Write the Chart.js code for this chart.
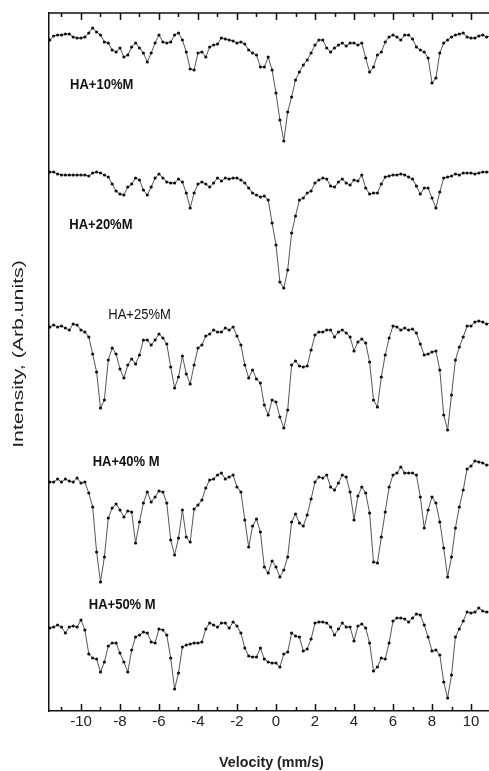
<!DOCTYPE html>
<html>
<head>
<meta charset="utf-8">
<script src="https://cdn.jsdelivr.net/npm/chart.js@4"></script>
<style>
    html, body { margin: 0; padding: 0; overflow: hidden; background: #fff; }
    #wrap { width: 489px; height: 771px; overflow: hidden; }
    #box { width: 520px; height: 771px; position: relative; }
</style>
</head>
<body>
<div id="wrap"><div id="box"><canvas id="chart"></canvas></div></div>
<script>
// velocity channels (mm/s)
const velocity = [
    -11.6, -11.4, -11.2, -11.0, -10.8, -10.6, -10.4, -10.2, -10.0, -9.8,
    -9.6, -9.4, -9.2, -9.0, -8.8, -8.6, -8.4, -8.2, -8.0, -7.8,
    -7.6, -7.4, -7.2, -7.0, -6.8, -6.6, -6.4, -6.2, -6.0, -5.8,
    -5.6, -5.4, -5.2, -5.0, -4.8, -4.6, -4.4, -4.2, -4.0, -3.8,
    -3.6, -3.4, -3.2, -3.0, -2.8, -2.6, -2.4, -2.2, -2.0, -1.8,
    -1.6, -1.4, -1.2, -1.0, -0.8, -0.6, -0.4, -0.2, 0.0, 0.2,
    0.4, 0.6, 0.8, 1.0, 1.2, 1.4, 1.6, 1.8, 2.0, 2.2,
    2.4, 2.6, 2.8, 3.0, 3.2, 3.4, 3.6, 3.8, 4.0, 4.2,
    4.4, 4.6, 4.8, 5.0, 5.2, 5.4, 5.6, 5.8, 6.0, 6.2,
    6.4, 6.6, 6.8, 7.0, 7.2, 7.4, 7.6, 7.8, 8.0, 8.2,
    8.4, 8.6, 8.8, 9.0, 9.2, 9.4, 9.6, 9.8, 10.0, 10.2,
    10.4, 10.6, 10.8, 11.0, 11.2, 11.4, 11.6
];

// relative transmission of each sample (arb. units, 0 = baseline)
const ha10 = [
    -5, -1, 0, 0, 1, 1, -2, -3, -3, -2,
    2, 7, 3, 0, -7, -8, -15, -17, -13, -22,
    -20, -12, -8, -13, -18, -27, -18, -8, 0, -7,
    -8, -7, 0, 2, -5, -17, -34, -35, -18, -17,
    -22, -12, -10, -9, -3, -4, -5, -6, -8, -7,
    -9, -15, -18, -20, -32, -32, -22, -35, -58, -85,
    -106, -77, -62, -45, -37, -30, -25, -18, -10, -5,
    -5, -13, -17, -13, -10, -8, -11, -8, -8, -10,
    -8, -23, -37, -32, -20, -17, -7, -2, 0, -2,
    -5, 0, 0, -4, -12, -15, -17, -23, -48, -43,
    -18, -8, -5, -2, 0, 1, 2, -2, -3, -3,
    -1, 0, -2, -1, 0, -1, 0
];
const ha20 = [
    2, 2, 0, -1, -1, -1, -1, -1, -1, -1,
    -2, 1, 2, 1, -1, -3, -10, -17, -20, -21,
    -13, -10, -4, -6, -16, -21, -13, -4, 0, -4,
    -8, -9, -9, -5, -8, -19, -34, -19, -10, -8,
    -10, -13, -9, -4, -7, -4, -5, -4, -4, -6,
    -9, -14, -19, -21, -23, -22, -26, -49, -71, -108,
    -114, -96, -59, -42, -26, -24, -19, -17, -9, -6,
    -4, -5, -12, -13, -8, -5, -9, -11, -6, -7,
    -1, -14, -20, -19, -19, -10, -3, -2, -1, -1,
    0, -1, -3, -5, -12, -20, -14, -14, -24, -34,
    -18, -4, -3, -2, 0, -1, 1, 1, 1, 0,
    1, 2, 2, 2, 2, 2, 2
];
const ha25 = [
    0, 2, 0, 1, -1, -3, 3, 2, -3, -5,
    -10, -27, -45, -81, -73, -33, -21, -27, -42, -51,
    -38, -32, -37, -28, -13, -13, -18, -13, -7, -11,
    -17, -40, -61, -50, -29, -47, -57, -38, -21, -18,
    -9, -7, -3, -5, -5, -1, -3, 0, -9, -18,
    -38, -51, -43, -52, -56, -78, -88, -73, -75, -90,
    -101, -83, -38, -34, -39, -40, -39, -23, -8, -5,
    -5, -3, -3, -10, -5, -3, -6, -10, -24, -15,
    -12, -16, -35, -73, -80, -50, -28, -11, 1, 0,
    -3, -1, -3, -2, -6, -17, -28, -27, -25, -24,
    -43, -88, -103, -68, -33, -20, -10, 1, 1, 5,
    6, 5, 3, 4, 5, 5, 5
];
const ha40 = [
    -2, -2, 1, -2, 1, -1, -2, 2, -3, -2,
    -13, -27, -72, -102, -77, -38, -28, -24, -30, -37,
    -31, -32, -63, -42, -23, -12, -22, -17, -11, -12,
    -23, -60, -75, -58, -30, -57, -62, -29, -25, -20,
    -8, 0, 1, 5, 7, 1, 3, 5, -7, -12,
    -40, -67, -46, -39, -52, -87, -93, -81, -87, -97,
    -90, -77, -42, -34, -43, -46, -35, -19, -2, 3,
    2, 5, -7, -10, -3, 5, 3, -12, -40, -16,
    -7, -13, -33, -82, -83, -57, -32, -7, 5, 7,
    13, 7, 7, 7, 5, -17, -48, -30, -17, -23,
    -42, -68, -97, -77, -48, -27, -10, 11, 14, 19,
    18, 17, 15, 15, 15, 15, 15
];
const ha50 = [
    -3, -2, 0, -2, -8, -2, -1, -2, 5, -5,
    -29, -33, -34, -47, -37, -21, -18, -18, -28, -37,
    -47, -25, -12, -10, -7, -8, -17, -18, -4, -5,
    -10, -33, -64, -48, -22, -20, -19, -18, -18, -17,
    -4, 2, 0, -2, 2, 2, -3, 3, -1, -8,
    -23, -31, -32, -32, -23, -34, -37, -38, -38, -42,
    -29, -27, -8, -11, -12, -26, -24, -14, 2, 3,
    3, 2, -2, -10, -4, 2, -2, -2, -16, -1,
    1, -3, -18, -46, -42, -33, -34, -18, 4, 7,
    7, 6, 3, 7, 11, 10, 0, -12, -26, -25,
    -30, -57, -73, -50, -12, -4, 4, 13, 12, 13,
    17, 14, 13, 13, 13, 13, 13
];

const spectra = [ha10, ha20, ha25, ha40, ha50];
const sampleNames = ['HA+10%M', 'HA+20%M', 'HA+25%M', 'HA+40% M', 'HA+50% M'];
// vertical stacking offset of each spectrum
const offsets = [676, 537, 384, 231, 86];

const xTickValues = [-10, -8, -6, -4, -2, 0, 2, 4, 6, 8, 10];
const xMinorValues = [-11, -9, -7, -5, -3, -1, 1, 3, 5, 7, 9, 11];

// where each sample name sits (velocity, intensity)
const nameAnchors = [[-10.56, 626], [-10.6, 486], [-8.6, 396], [-9.4, 249], [-9.6, 106]];
const nameBold = [true, true, false, true, true];

const FONT = 'Arial, "Liberation Sans", Helvetica, sans-serif';

function stretchedText(ctx, text, x, y, font, sx, sy, align) {
    ctx.save();
    ctx.translate(x, y);
    ctx.scale(sx, sy);
    ctx.font = font;
    ctx.textAlign = align || 'left';
    ctx.fillText(text, 0, 0);
    ctx.restore();
}

const framePlugin = {
    id: 'frame',
    afterDraw(chart) {
        const { ctx, chartArea: a, scales: { x, y } } = chart;
        ctx.save();
        ctx.strokeStyle = '#111';
        ctx.lineWidth = 1.5;
        ctx.beginPath();
        ctx.moveTo(a.left, a.top);
        ctx.lineTo(a.right, a.top);
        ctx.lineTo(a.right, a.bottom);
        ctx.stroke();

        // inward ticks top and bottom
        const tick = (v, len) => {
            const px = Math.round(x.getPixelForValue(v)) + 0.5;
            ctx.beginPath();
            ctx.moveTo(px, a.bottom);
            ctx.lineTo(px, a.bottom - len);
            ctx.moveTo(px, a.top);
            ctx.lineTo(px, a.top + len);
            ctx.stroke();
        };
        xTickValues.forEach(v => tick(v, 7));
        xMinorValues.forEach(v => tick(v, 4));

        // sample names
        ctx.fillStyle = '#111';
        ctx.textBaseline = 'middle';
        sampleNames.forEach((name, i) => {
            const [vx, vy] = nameAnchors[i];
            const font = (nameBold[i] ? 'bold ' : '') + '13px ' + FONT;
            stretchedText(ctx, name, x.getPixelForValue(vx), y.getPixelForValue(vy), font, 1, 1.15);
        });

        // axis titles
        ctx.fillStyle = '#222';
        ctx.textBaseline = 'alphabetic';
        stretchedText(ctx, 'Velocity (mm/s)', 271.5, 767, 'bold 14px ' + FONT, 1.02, 1.1, 'center');

        ctx.save();
        ctx.translate(23, 354);
        ctx.rotate(-Math.PI / 2);
        ctx.scale(1.52, 1);
        ctx.font = '14px ' + FONT;
        ctx.textAlign = 'center';
        ctx.fillText('Intensity, (Arb.units)', 0, 0);
        ctx.restore();

        ctx.restore();
    }
};

const datasets = spectra.map((vals, i) => ({
    label: sampleNames[i],
    data: velocity.map((v, j) => ({ x: v, y: offsets[i] + vals[j] })),
    borderColor: '#555',
    borderWidth: 1,
    pointRadius: 1.6,
    pointBackgroundColor: '#111',
    pointBorderWidth: 0,
    tension: 0
}));

new Chart(document.getElementById('chart'), {
    type: 'line',
    data: { datasets },
    options: {
        responsive: true,
        maintainAspectRatio: false,
        animation: false,
        devicePixelRatio: 1,
        layout: { padding: { top: 13, right: 17, bottom: 0, left: 0 } },
        plugins: { legend: { display: false }, tooltip: { enabled: false } },
        scales: {
            x: {
                type: 'linear',
                min: -11.64,
                max: 11.64,
                afterFit: s => { s.height = 60; },
                afterBuildTicks: s => { s.ticks = xTickValues.map(v => ({ value: v })); },
                grid: { display: false, drawTicks: false },
                border: { display: true, color: '#111', width: 1.5 },
                ticks: {
                    padding: 2,
                    color: '#222',
                    font: { family: FONT, size: 15 },
                    maxRotation: 0,
                    autoSkip: false
                }
            },
            y: {
                min: 0,
                max: 698,
                afterFit: s => { s.width = 49; },
                grid: { display: false, drawTicks: false },
                border: { display: true, color: '#111', width: 1.5 },
                ticks: { display: false }
            }
        }
    },
    plugins: [framePlugin]
});
</script>
</body>
</html>
